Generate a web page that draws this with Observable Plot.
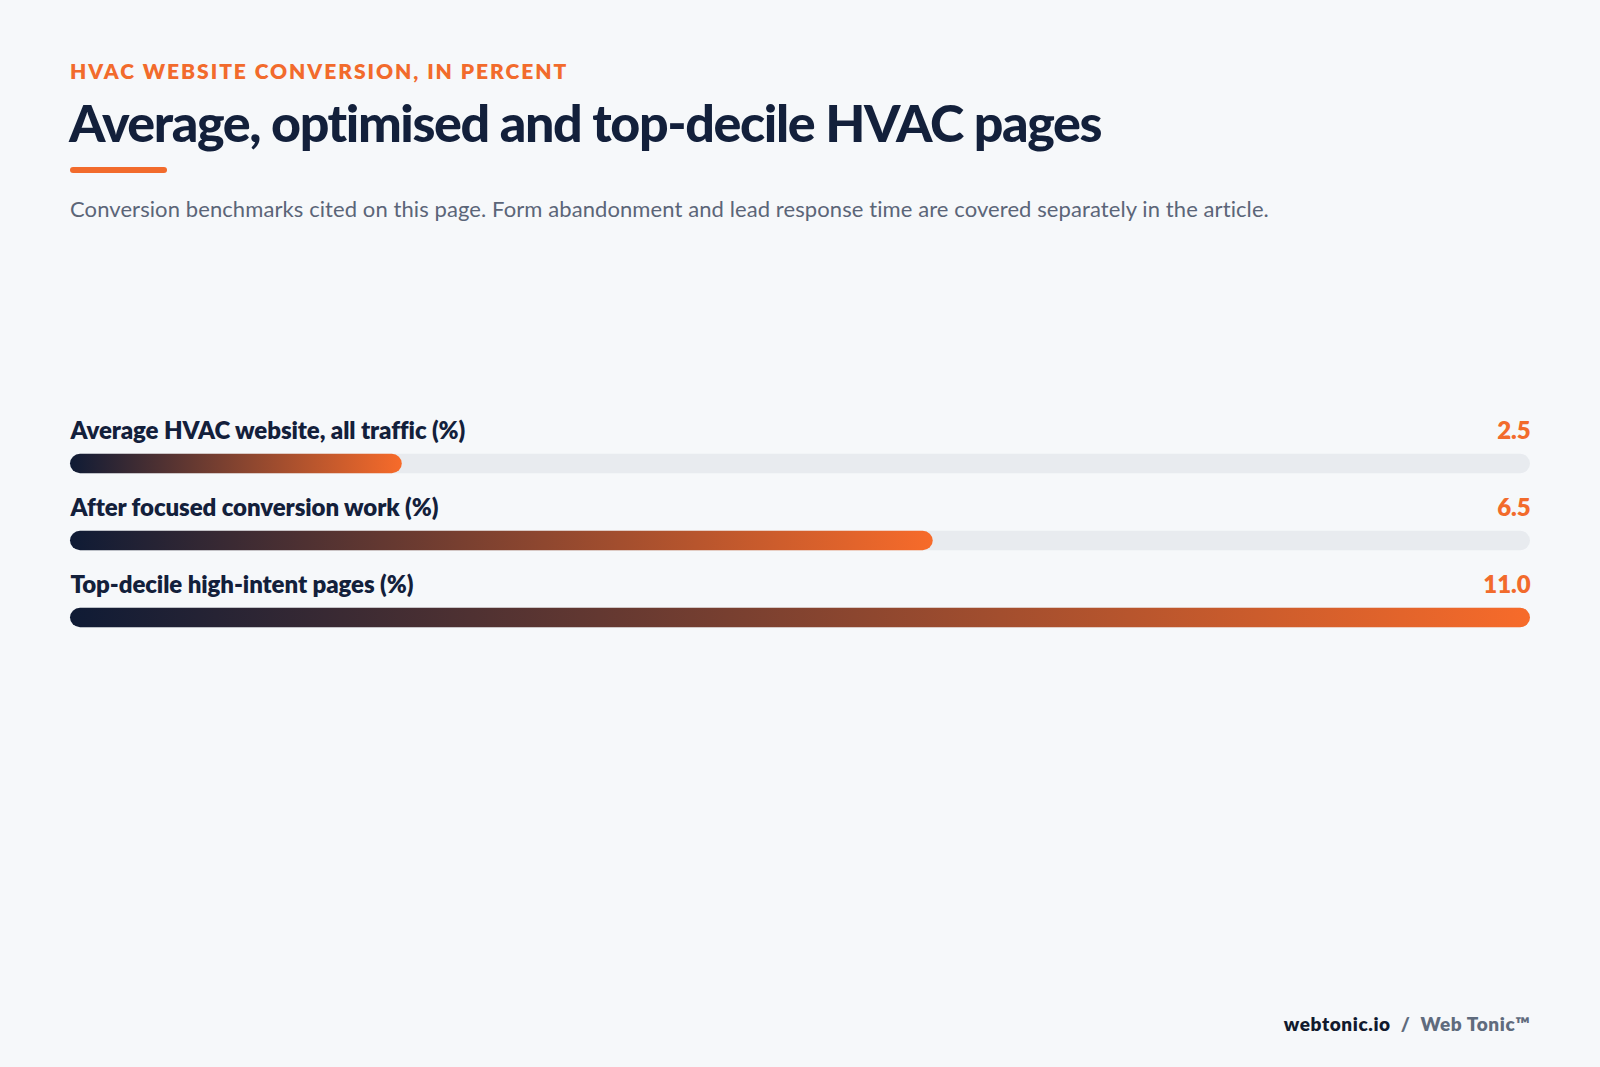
<!DOCTYPE html>
<html>
<head>
<meta charset="utf-8">
<script src="https://cdn.jsdelivr.net/npm/d3@7"></script>
<script src="https://cdn.jsdelivr.net/npm/@observablehq/plot@0.6"></script>
<style>
  html, body { margin: 0; padding: 0; background: #f6f8fa; }
  #page { position: relative; width: 1600px; height: 1067px; background: #f6f8fa; font-family: Lato, "Noto Sans", sans-serif; overflow: hidden; }
  .abs { position: absolute; white-space: nowrap; line-height: 1; }
  #eyebrow { left: 70px; top: 60px; font-size: 21px; font-weight: 800; letter-spacing: 1.95px; color: #f26b2c; }
  #title { left: 69px; top: 95.5px; font-size: 52px; font-weight: 900; letter-spacing: -1.4px; color: #13203b; }
  #accent { position: absolute; left: 70px; top: 167px; width: 97px; height: 6px; border-radius: 3px; background: #f26b2c; }
  #subtitle { left: 70px; top: 197.5px; font-size: 22px; font-weight: 400; letter-spacing: 0.09px; color: #5b6578; }
  #chart { position: absolute; left: 0; top: 399px; }
  #chart svg text { letter-spacing: -0.08px; }
  #footer { right: 70px; top: 1014px; font-size: 19px; font-weight: 800; letter-spacing: 0.6px; }
  #footer .a { color: #111a2e; }
  #footer .b { color: #5f6b7d; }
</style>
</head>
<body>
<div id="page">
  <div id="eyebrow" class="abs">HVAC WEBSITE CONVERSION, IN PERCENT</div>
  <div id="title" class="abs">Average, optimised and top-decile HVAC pages</div>
  <div id="accent"></div>
  <div id="subtitle" class="abs">Conversion benchmarks cited on this page. Form abandonment and lead response time are covered separately in the article.</div>
  <div id="chart"></div>
  <div id="footer" class="abs"><span class="a">webtonic.io</span><span class="b">&nbsp;&nbsp;/&nbsp;&nbsp;Web Tonic™</span></div>
</div>
<script>
const categories = [
  "Average HVAC website, all traffic (%)",
  "After focused conversion work (%)",
  "Top-decile high-intent pages (%)"
];
const values = [2.5, 6.5, 11.0];
const scaleMax = 11;

const data = categories.map((c, i) => ({category: c, value: values[i]}));

const chart = Plot.plot({
  width: 1600,
  height: 260,
  marginLeft: 70,
  marginRight: 70,
  marginTop: 0,
  marginBottom: 0,
  style: {background: "transparent", fontFamily: "Lato, 'Noto Sans', sans-serif", overflow: "visible"},
  x: {domain: [0, scaleMax], axis: null},
  y: {type: "band", domain: categories, range: [25, 258], padding: 0, axis: null},
  marks: [
    Plot.barX(data, {y: "category", x1: 0, x2: () => scaleMax, fill: "#e8ebef", rx: 10, insetTop: 28.8, insetBottom: 28.8}),
    Plot.barX(data, {y: "category", x1: 0, x2: "value", fill: "url(#barGrad)", rx: 10, insetTop: 28.8, insetBottom: 28.8}),
    Plot.text(data, {y: "category", text: "category", frameAnchor: "left", textAnchor: "start", lineAnchor: "bottom", dy: -25, fontSize: 24, fontWeight: 800, fill: "#13203b"}),
    Plot.text(data, {y: "category", text: d => d.value.toFixed(1), frameAnchor: "right", textAnchor: "end", lineAnchor: "bottom", dy: -25, fontSize: 24, fontWeight: 800, fill: "#f26b2c"})
  ]
});

const svg = d3.select(chart);
const defs = svg.insert("defs", ":first-child");
const grad = defs.append("linearGradient").attr("id", "barGrad").attr("x1", "0").attr("x2", "1").attr("y1", "0").attr("y2", "0");
grad.append("stop").attr("offset", "0%").attr("stop-color", "#0f1b35");
grad.append("stop").attr("offset", "100%").attr("stop-color", "#f76b2a");

document.getElementById("chart").appendChild(chart);
</script>
</body>
</html>
